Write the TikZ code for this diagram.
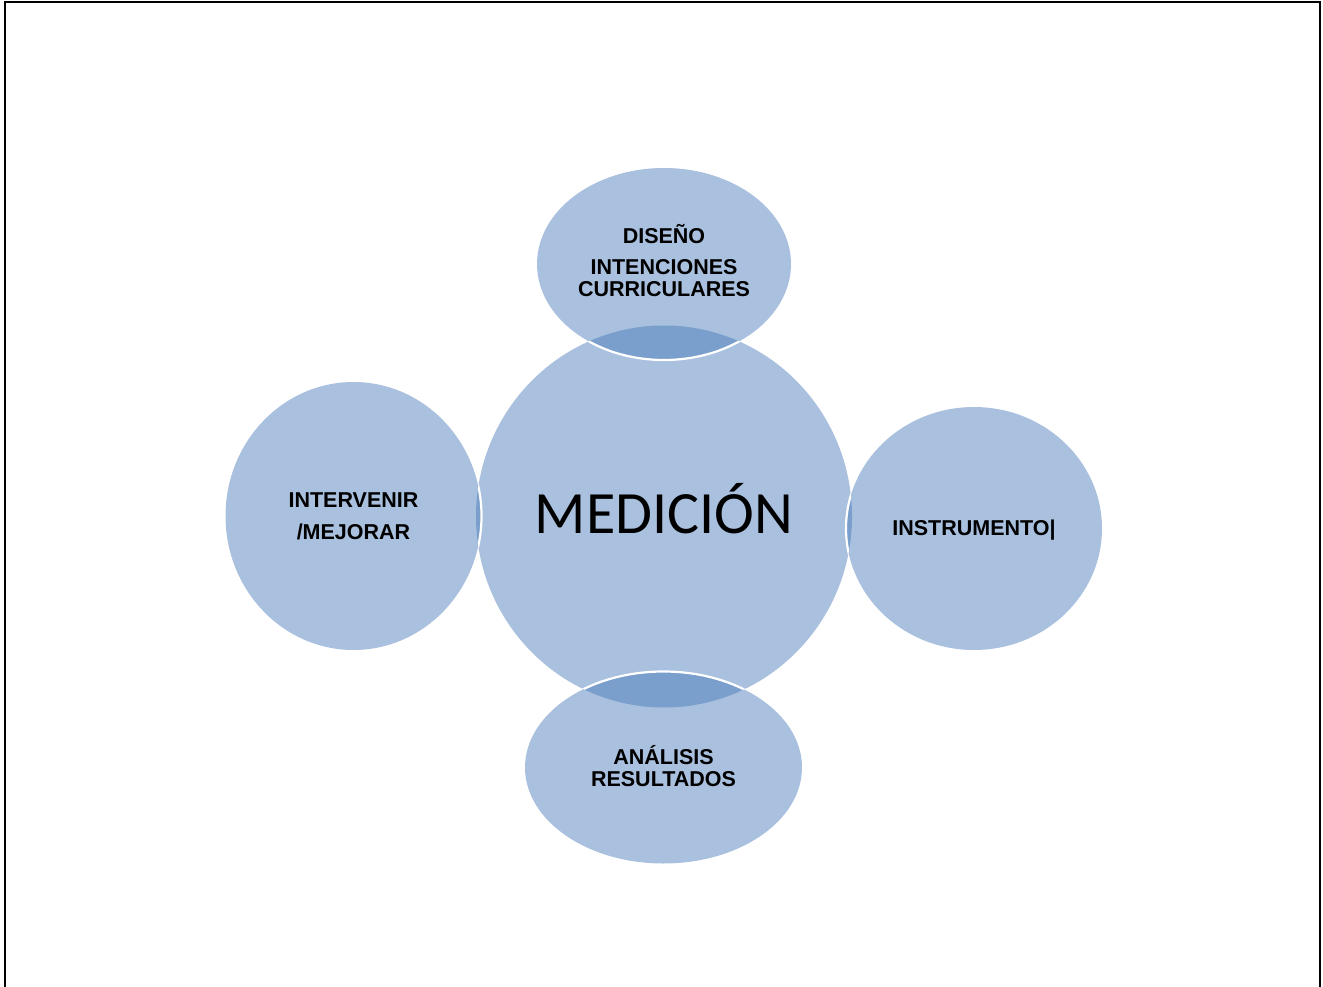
\documentclass[tikz,border=0pt]{standalone}
\usepackage{fontspec}
\setmainfont{Liberation Sans}
\newfontfamily\carlitofont{Carlito}
\usetikzlibrary{shapes.geometric}
\definecolor{bubble}{RGB}{169,192,222}
\definecolor{lensblue}{RGB}{123,159,204}
\begin{document}
\begin{tikzpicture}[x=1pt,y=-1pt,
  bub/.style={ellipse, fill=bubble, inner sep=0pt},
  lbl/.style={inner sep=0pt, align=center,
    font=\fontsize{21.5}{22}\selectfont\bfseries},
  sep/.style={draw=white, line width=2.2pt}]
\useasboundingbox (0,0) rectangle (1323,987);
\coordinate (fa) at (5,995);
\coordinate (fb) at (5,2);
\coordinate (fc) at (1320,2);
\coordinate (fd) at (1320,995);
\draw[line width=2.6pt] (fa) -- (fb) -- (fc) -- (fd);
% centre
\node[bub, minimum width=376pt, minimum height=382pt] (med) at (664,516.5) {};
% satellites
\node[bub, minimum width=254pt, minimum height=192pt] (top) at (664,264) {};
\node[bub, minimum width=277pt, minimum height=192pt] (bot) at (663.5,767.5) {};
\node[bub, minimum width=256pt, minimum height=268pt] (lft) at (353.5,516) {};
\node[bub, minimum width=256pt, minimum height=243pt] (rgt) at (974,528.5) {};
% overlaps
\begin{scope}
  \clip (top.center) ellipse [x radius=127, y radius=96];
  \fill[lensblue] (med.center) ellipse [x radius=188, y radius=191];
\end{scope}
\begin{scope}
  \clip (bot.center) ellipse [x radius=138.5, y radius=96];
  \fill[lensblue] (med.center) ellipse [x radius=188, y radius=191];
\end{scope}
\begin{scope}
  \clip (lft.center) ellipse [x radius=128, y radius=134];
  \fill[lensblue] (med.center) ellipse [x radius=188, y radius=191];
\end{scope}
\begin{scope}
  \clip (rgt.center) ellipse [x radius=128, y radius=121.5];
  \fill[lensblue] (med.center) ellipse [x radius=188, y radius=191];
\end{scope}
\begin{scope}
  \clip (med.center) ellipse [x radius=188, y radius=191];
  \draw[sep] (top.center) ellipse [x radius=127, y radius=96];
  \draw[sep] (bot.center) ellipse [x radius=138.5, y radius=96];
  \draw[sep] (lft.center) ellipse [x radius=128, y radius=134];
  \draw[sep] (rgt.center) ellipse [x radius=128, y radius=121.5];
\end{scope}
% texts
\node[inner sep=0pt, anchor=base, font=\carlitofont\fontsize{60}{60}\selectfont]
  (medtxt) at (664,533) {MEDICIÓN};
\node[lbl] (toptxt) at (664,261) {DISEÑO\\[9pt]INTENCIONES\\CURRICULARES};
\node[lbl] (bottxt) at (663.5,766.5) {ANÁLISIS\\RESULTADOS};
\node[lbl] (lfttxt) at (353.5,516) {INTERVENIR\\[10pt]/MEJORAR};
\node[lbl] (rgttxt) at (974,530.5) {INSTRUMENTO|};
\end{tikzpicture}
\end{document}
